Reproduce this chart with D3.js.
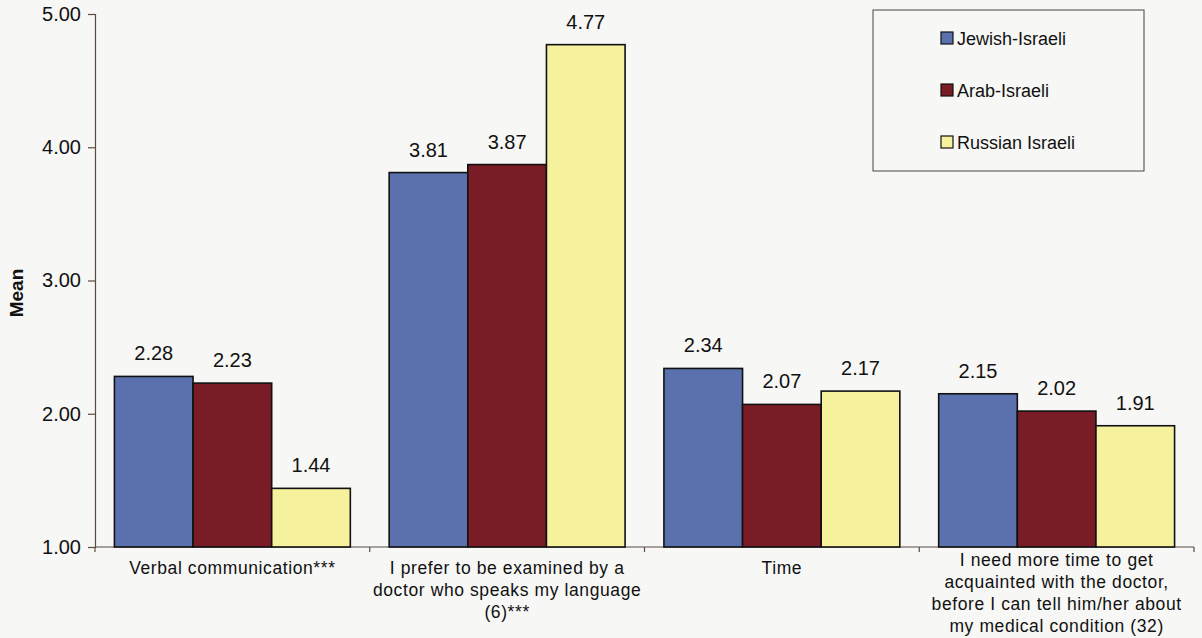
<!DOCTYPE html>
<html>
<head>
<meta charset="utf-8">
<script src="https://cdn.jsdelivr.net/npm/d3@7"></script>
<style>
  html, body { margin: 0; padding: 0; background: #f7f7f5; }
  svg { display: block; font-family: Arial, "Liberation Sans", sans-serif; }
</style>
</head>
<body>
<svg id="chart" width="1202" height="638"></svg>
<script>
// Category labels (one string per line)
const categories = [
  ["Verbal communication***"],
  ["I prefer to be examined by a", "doctor who speaks my language", "(6)***"],
  ["Time"],
  ["I need more time to get", "acquainted with the doctor,", "before I can tell him/her about", "my medical condition (32)"]
];
const seriesNames = ["Jewish-Israeli", "Arab-Israeli", "Russian Israeli"];
const jewishIsraeli = [2.28, 3.81, 2.34, 2.15];
const arabIsraeli = [2.23, 3.87, 2.07, 2.02];
const russianIsraeli = [1.44, 4.77, 2.17, 1.91];
const yTicks = [1, 2, 3, 4, 5];
const colors = ["#5a71ae", "#7a1c25", "#f6f19c"];

const series = [jewishIsraeli, arabIsraeli, russianIsraeli];
const svg = d3.select("#chart");

const plot = { left: 95, right: 1194, top: 14, bottom: 547 };

const x0 = d3.scaleBand().domain(d3.range(categories.length)).range([plot.left, plot.right]).paddingInner(0).paddingOuter(0);
const x1 = d3.scaleBand().domain(d3.range(series.length)).range([0, x0.bandwidth()]).paddingOuter(0.247).paddingInner(0);
const y = d3.scaleLinear().domain([1, 5]).range([plot.bottom, plot.top]);

// Y axis
const yAxis = d3.axisLeft(y).tickValues(yTicks).tickFormat(d3.format(".2f")).tickSize(7).tickPadding(7);
const gy = svg.append("g").attr("transform", `translate(${plot.left},0)`).call(yAxis);
gy.select(".domain").attr("stroke", "#5a4a40").attr("stroke-width", 1.2);
gy.selectAll(".tick line").attr("stroke", "#5a4a40").attr("stroke-width", 1.2);
gy.selectAll(".tick text").attr("fill", "#111").style("font-size", "20px").style("font-family", "Arial, 'Liberation Sans', sans-serif");

// X axis with ticks at category boundaries
svg.append("line")
  .attr("x1", plot.left).attr("x2", plot.right).attr("y1", plot.bottom).attr("y2", plot.bottom)
  .attr("stroke", "#5a4a40").attr("stroke-width", 1.2);
svg.append("g").selectAll("line")
  .data(d3.range(categories.length + 1))
  .join("line")
  .attr("x1", i => i < categories.length ? x0(i) : plot.right)
  .attr("x2", i => i < categories.length ? x0(i) : plot.right)
  .attr("y1", plot.bottom).attr("y2", plot.bottom + 5)
  .attr("stroke", "#5a4a40").attr("stroke-width", 1.2);

// Y axis title
svg.append("text")
  .attr("transform", `translate(23,293) rotate(-90)`)
  .attr("text-anchor", "middle")
  .style("font-size", "19px").style("font-weight", "bold")
  .attr("fill", "#111")
  .text("Mean");

// Bars
const groups = svg.append("g").selectAll("g")
  .data(categories.map((c, i) => i))
  .join("g")
  .attr("transform", i => `translate(${x0(i)},0)`);

groups.selectAll("rect")
  .data(i => series.map((s, k) => ({ k, v: s[i] })))
  .join("rect")
  .attr("x", d => x1(d.k))
  .attr("width", x1.bandwidth())
  .attr("y", d => y(d.v))
  .attr("height", d => y(1) - y(d.v))
  .attr("fill", d => colors[d.k])
  .attr("stroke", "#111")
  .attr("stroke-width", 1.6);

// Value labels
groups.selectAll("text.val")
  .data(i => series.map((s, k) => ({ k, v: s[i] })))
  .join("text")
  .attr("class", "val")
  .attr("x", d => x1(d.k) + x1.bandwidth() / 2)
  .attr("y", d => y(d.v) - 16)
  .attr("text-anchor", "middle")
  .style("font-size", "20px")
  .attr("fill", "#111")
  .text(d => d.v.toFixed(2));

// Category labels; long labels are lifted so the last line stays on the page
const lineGap = 22;
const catText = svg.append("g").selectAll("text")
  .data(categories)
  .join("text")
  .attr("text-anchor", "middle")
  .style("font-size", "17.5px")
  .style("letter-spacing", "0.6px")
  .attr("fill", "#111")
  .attr("transform", (d, i) => `translate(${x0(i) + x0.bandwidth() / 2},${Math.min(574, 632 - (d.length - 1) * lineGap)})`);
catText.selectAll("tspan")
  .data(d => d)
  .join("tspan")
  .attr("x", 0)
  .attr("dy", (d, j) => j === 0 ? 0 : lineGap)
  .text(d => d);

// Legend
const legend = svg.append("g");
legend.append("rect")
  .attr("x", 873).attr("y", 10).attr("width", 271).attr("height", 161)
  .attr("fill", "none").attr("stroke", "#444").attr("stroke-width", 1);
const items = legend.selectAll("g.item")
  .data(seriesNames)
  .join("g")
  .attr("class", "item")
  .attr("transform", (d, i) => `translate(941,${38 + i * 52})`);
items.append("rect")
  .attr("x", 0).attr("y", -6).attr("width", 12).attr("height", 12)
  .attr("fill", (d, i) => colors[i])
  .attr("stroke", "#111").attr("stroke-width", 1.2);
items.append("text")
  .attr("x", 16).attr("y", 6.5)
  .style("font-size", "18px")
  .attr("fill", "#111")
  .text(d => d);
</script>
</body>
</html>
